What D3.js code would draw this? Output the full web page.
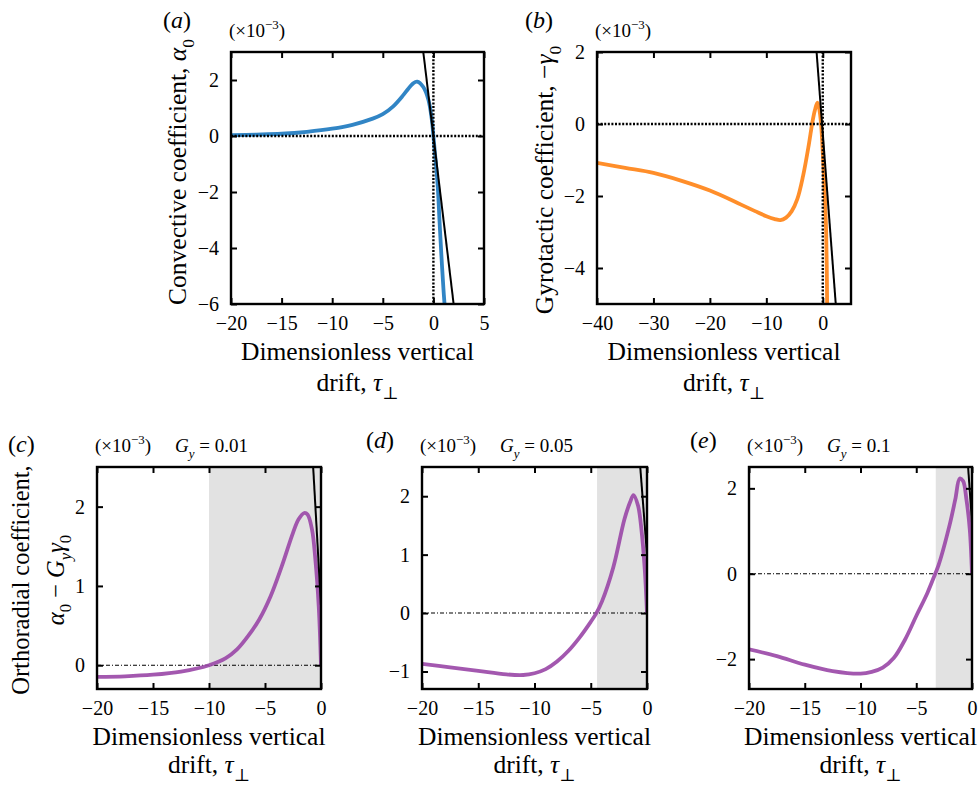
<!DOCTYPE html>
<html>
<head>
<meta charset="utf-8">
<title>Convective, gyrotactic and orthoradial coefficients</title>
<script src="https://cdn.jsdelivr.net/npm/d3@7"></script>
<style>
  body { margin: 0; background: #fff; }
  svg text { font-family: "Liberation Serif", "DejaVu Serif", serif; fill: #000; }
</style>
</head>
<body>
<svg id="chart" width="980" height="787"></svg>
<script>
// ---- data (values in units of 1e-3) ----
var tauA = [-20, -17.5, -15, -12.5, -10, -8, -6, -5, -4, -3, -2.5, -2, -1.6, -1.0, -0.5, -0.15, 0, 0.2, 0.43, 0.6, 0.78, 1.0, 1.1];
var alpha0 = [0.03, 0.05, 0.08, 0.15, 0.26, 0.4, 0.62, 0.78, 1.05, 1.45, 1.68, 1.88, 1.94, 1.75, 1.3, 0.57, 0, -0.8, -1.8, -3.0, -4.2, -5.5, -6];

var tauB = [-40, -35, -30, -25, -20, -15, -12, -10, -8.5, -7.5, -6.5, -5.5, -4.5, -3.5, -2.5, -1.85, -1.4, -0.95, -0.6, -0.3, 0.1, 0.45, 0.6, 0.7, 0.77];
var minusGamma0 = [-1.08, -1.22, -1.36, -1.58, -1.85, -2.2, -2.42, -2.56, -2.64, -2.67, -2.6, -2.42, -2.08, -1.45, -0.6, 0.04, 0.38, 0.59, 0.4, 0, -1.1, -2.3, -3.0, -3.9, -5];

var tauC = [-20, -17.5, -15, -12.5, -10, -8.5, -7.5, -6.5, -5.5, -4.5, -3.5, -2.5, -2, -1.5, -1.2, -0.8, -0.5, -0.2, 0];
var orthoC = [-0.147, -0.14, -0.12, -0.08, 0, 0.09, 0.2, 0.37, 0.58, 0.87, 1.25, 1.67, 1.84, 1.92, 1.9, 1.71, 1.33, 0.74, 0];

var tauD = [-20, -17.5, -15, -12.5, -11, -10, -9, -8, -7, -6, -5, -4.5, -4, -3, -2, -1.5, -1.2, -0.8, -0.5, -0.2, 0];
var orthoD = [-0.87, -0.93, -0.99, -1.05, -1.06, -1.03, -0.96, -0.83, -0.65, -0.42, -0.15, 0, 0.2, 0.78, 1.61, 1.9, 2.02, 1.84, 1.44, 0.75, 0];

var tauE = [-20, -17.5, -15, -12.5, -10, -9, -8, -7, -6, -5, -4, -3.3, -3, -2, -1.5, -1.1, -0.8, -0.5, -0.2, 0];
var orthoE = [-1.77, -1.93, -2.13, -2.28, -2.34, -2.3, -2.2, -1.97, -1.54, -0.99, -0.45, 0, 0.2, 1.15, 1.74, 2.23, 2.17, 1.74, 1.04, 0];

// black asymptote lines, two end points each [tau, value]
var asymA = [[-1.0, 3], [2.0, -6]];
var asymB = [[-1.1, 2], [2.3, -5]];
var asymC = [[-0.7, 2.5], [0, 0.75]];
var asymD = [[-0.6, 2.5], [0, 1.0]];
var asymE = [[-0.35, 2.5], [0, 1.2]];

// start of the grey band (where the coefficient is positive)
var bandStart = {c: -10, d: -4.44, e: -3.25};
var gyValues = ["0.01", "0.05", "0.1"];

var xTicksA = [-20, -15, -10, -5, 0, 5];
var yTicksA = [-6, -4, -2, 0, 2];
var xTicksB = [-40, -30, -20, -10, 0];
var yTicksB = [-4, -2, 0, 2];
var xTicksCDE = [-20, -15, -10, -5, 0];
var yTicksC = [0, 1, 2];
var yTicksD = [-1, 0, 1, 2];
var yTicksE = [-2, 0, 2];

var svg = d3.select("#chart");
var fmt = function(v) { return v < 0 ? "\u2212" + Math.abs(v) : String(v); };
var TITLE = 25.5;

// text with italic / sub / superscript parts
function rich(sel, parts, size) {
  var shift = 0;
  parts.forEach(function(p) {
    var ts = sel.append("tspan").text(p.t);
    if (p.i) ts.attr("font-style", "italic");
    var want = p.sub ? size * 0.3 : (p.sup ? -size * 0.42 : 0);
    if (want !== shift) { ts.attr("dy", want - shift); shift = want; }
    if (p.sub || p.sup) ts.attr("font-size", size * 0.68);
  });
}

function panel(o) {
  var x = d3.scaleLinear().domain(o.xdom).range([o.l, o.r]);
  var y = d3.scaleLinear().domain(o.ydom).range([o.b, o.t]);
  var g = svg.append("g");
  var cid = "clip-" + o.id;
  g.append("clipPath").attr("id", cid).append("rect")
    .attr("x", o.l).attr("y", o.t).attr("width", o.r - o.l).attr("height", o.b - o.t);
  var inner = g.append("g").attr("clip-path", "url(#" + cid + ")");

  if (o.band != null) {
    inner.append("rect")
      .attr("x", x(o.band)).attr("y", o.t)
      .attr("width", x(o.xdom[1]) - x(o.band)).attr("height", o.b - o.t)
      .attr("fill", "#e2e2e2");
  }
  if (o.thinZero) {
    inner.append("line")
      .attr("x1", o.l).attr("x2", o.r).attr("y1", y(0)).attr("y2", y(0))
      .attr("stroke", "#000").attr("stroke-width", 1.1)
      .attr("stroke-dasharray", "4,2,1,2");
  }

  var line = d3.line().x(function(d) { return x(d[0]); }).y(function(d) { return y(d[1]); })
    .curve(d3.curveCatmullRom.alpha(0.5));
  var pts = o.xs.map(function(v, i) { return [v, o.ys[i]]; });
  inner.append("path").datum(pts)
    .attr("d", line)
    .attr("fill", "none").attr("stroke", o.color).attr("stroke-width", 3.8)
    .attr("stroke-linejoin", "round").attr("opacity", 0.92);

  if (!o.thinZero) {
    inner.append("line")
      .attr("x1", o.l).attr("x2", o.r).attr("y1", y(0)).attr("y2", y(0))
      .attr("stroke", "#000").attr("stroke-width", 2.4).attr("stroke-dasharray", "2,1.6");
    inner.append("line")
      .attr("x1", x(0)).attr("x2", x(0)).attr("y1", o.t).attr("y2", o.b)
      .attr("stroke", "#000").attr("stroke-width", 2.4).attr("stroke-dasharray", "2,1.6");
  }

  inner.append("line")
    .attr("x1", x(o.asym[0][0])).attr("y1", y(o.asym[0][1]))
    .attr("x2", x(o.asym[1][0])).attr("y2", y(o.asym[1][1]))
    .attr("stroke", "#000").attr("stroke-width", 2);

  // inward ticks on all four sides
  var tl = 6;
  var axB = d3.axisBottom(x).tickValues(o.xt).tickSize(-tl).tickPadding(12).tickFormat(fmt);
  var axT = d3.axisTop(x).tickValues(o.xt).tickSize(-tl).tickFormat("");
  var axL = d3.axisLeft(y).tickValues(o.yt).tickSize(-tl).tickPadding(12).tickFormat(fmt);
  var axR = d3.axisRight(y).tickValues(o.yt).tickSize(-tl).tickFormat("");
  [[axB, "translate(0," + o.b + ")"], [axT, "translate(0," + o.t + ")"],
   [axL, "translate(" + o.l + ",0)"], [axR, "translate(" + o.r + ",0)"]].forEach(function(a) {
    var s = g.append("g").attr("transform", a[1]).call(a[0]);
    s.select(".domain").remove();
    s.selectAll(".tick line").attr("stroke", "#000").attr("stroke-width", 2);
    s.selectAll("text").attr("font-size", 20).attr("fill", "#000");
  });

  g.append("rect").attr("x", o.l).attr("y", o.t).attr("width", o.r - o.l).attr("height", o.b - o.t)
    .attr("fill", "none").attr("stroke", "#000").attr("stroke-width", 2.4);

  // panel letter and scale note
  rich(g.append("text").attr("x", o.lx).attr("y", o.ly).attr("font-size", 24),
       [{t: "("}, {t: o.id, i: true}, {t: ")"}], 24);
  var note = g.append("text").attr("x", o.l - 2).attr("y", o.t - 15).attr("font-size", 19);
  rich(note, [{t: "(\u00d710"}, {t: "\u22123", sup: true}, {t: ")"}], 19);
  if (o.gy) {
    var gt = g.append("text").attr("x", o.l + 78).attr("y", o.t - 15).attr("font-size", 19);
    rich(gt, [{t: "G", i: true}, {t: "y", i: true, sub: true}, {t: " = " + o.gy}], 19);
  }

  // x title, two lines
  var cx = (o.l + o.r) / 2;
  g.append("text").attr("x", cx).attr("y", o.b + 56).attr("text-anchor", "middle")
    .attr("font-size", TITLE).text("Dimensionless vertical");
  rich(g.append("text").attr("x", cx).attr("y", o.b + o.l2).attr("text-anchor", "middle").attr("font-size", TITLE),
       [{t: "drift, "}, {t: "\u03c4", i: true}, {t: "\u22a5", sub: true}], TITLE);

  // y title
  if (o.ytitle) {
    o.ytitle.forEach(function(parts, k) {
      var yt = g.append("text")
        .attr("transform", "translate(" + o.ytx[k] + "," + o.yty + ") rotate(-90)")
        .attr("text-anchor", "middle").attr("font-size", o.ysize || TITLE);
      rich(yt, parts, o.ysize || TITLE);
    });
  }
}

panel({id: "a", l: 231, r: 484, t: 52, b: 304, xdom: [-20, 5], ydom: [-6, 3],
  xt: xTicksA, yt: yTicksA, xs: tauA, ys: alpha0, color: "#1f7bc0", asym: asymA,
  lx: 163, ly: 28, l2: 87,
  ytitle: [[{t: "Convective coefficient, "}, {t: "\u03b1", i: true}, {t: "0", sub: true}]],
  ytx: [186], yty: 172});

panel({id: "b", l: 597, r: 851, t: 52, b: 304, xdom: [-40, 5], ydom: [-5, 2],
  xt: xTicksB, yt: yTicksB, xs: tauB, ys: minusGamma0, color: "#ff8418", asym: asymB,
  lx: 525, ly: 28, l2: 87,
  ytitle: [[{t: "Gyrotactic coefficient, \u2212"}, {t: "\u03b3", i: true}, {t: "0", sub: true}]],
  ytx: [553], yty: 180});

panel({id: "c", l: 97, r: 321, t: 467, b: 689, xdom: [-20, 0], ydom: [-0.3, 2.5],
  xt: xTicksCDE, yt: yTicksC, xs: tauC, ys: orthoC, color: "#9b4aa8", asym: asymC,
  band: bandStart.c, thinZero: true, gy: gyValues[0],
  lx: 8, ly: 452, l2: 84, ysize: 24.5,
  ytitle: [[{t: "Orthoradial coefficient,"}],
           [{t: "\u03b1", i: true}, {t: "0", sub: true}, {t: " \u2212 "}, {t: "G", i: true}, {t: "y", i: true, sub: true},
            {t: "\u03b3", i: true}, {t: "0", sub: true}]],
  ytx: [29, 64], yty: 580});

panel({id: "d", l: 422, r: 647, t: 467, b: 689, xdom: [-20, 0], ydom: [-1.3, 2.5],
  xt: xTicksCDE, yt: yTicksD, xs: tauD, ys: orthoD, color: "#9b4aa8", asym: asymD,
  band: bandStart.d, thinZero: true, gy: gyValues[1],
  lx: 366, ly: 448, l2: 84});

panel({id: "e", l: 749, r: 972, t: 467, b: 689, xdom: [-20, 0], ydom: [-2.7, 2.5],
  xt: xTicksCDE, yt: yTicksE, xs: tauE, ys: orthoE, color: "#9b4aa8", asym: asymE,
  band: bandStart.e, thinZero: true, gy: gyValues[2],
  lx: 690, ly: 448, l2: 84});
</script>
</body>
</html>
